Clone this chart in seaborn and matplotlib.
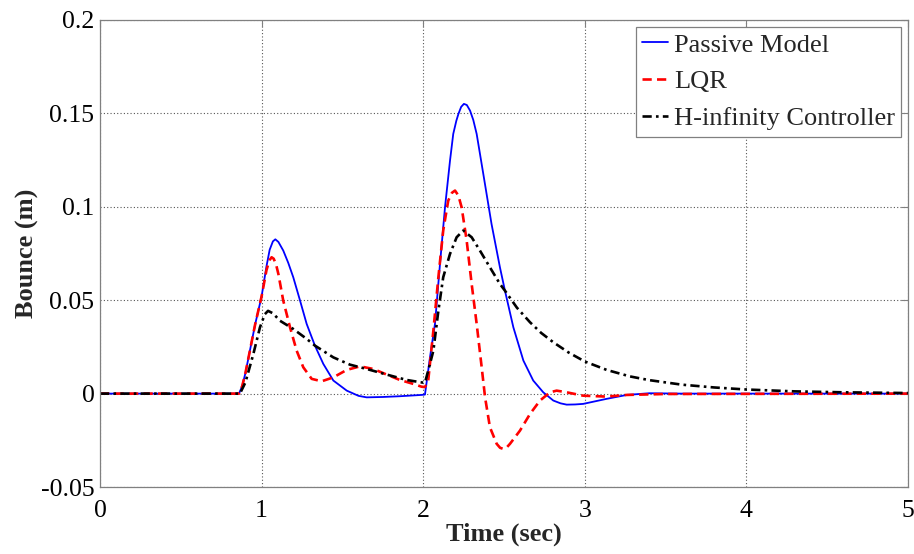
import pandas as pd
import matplotlib
matplotlib.use("Agg")
import matplotlib.pyplot as plt
import seaborn as sns

# Passive suspension response
t_passive = [0.0, 0.86, 0.88, 0.90, 0.93, 0.96, 1.0, 1.03, 1.05, 1.07, 1.085, 1.104,
             1.134, 1.165, 1.196, 1.238, 1.279, 1.33, 1.382, 1.444, 1.527, 1.60, 1.65,
             1.75, 1.856, 1.99, 2.011, 2.042, 2.073, 2.104, 2.135, 2.166, 2.186, 2.205, 2.218,
             2.235, 2.252, 2.27, 2.29, 2.31, 2.331, 2.372, 2.423, 2.475, 2.506, 2.558, 2.62,
             2.681, 2.743, 2.805, 2.85, 2.888, 2.94, 2.99, 3.135, 3.26, 3.4, 3.6, 5.0]
y_passive = [0.0, 0.0, 0.004, 0.011, 0.024, 0.037, 0.052, 0.068, 0.077, 0.0815, 0.0826, 0.0812,
             0.0766, 0.0700, 0.0623, 0.0498, 0.0373, 0.0257, 0.0159, 0.0070, 0.0016, -0.0012, -0.0020,
             -0.0018, -0.0014, -0.0007, -0.0005, 0.0194, 0.0373, 0.0694, 0.0997, 0.1247, 0.1390, 0.1460, 0.1497,
             0.1535, 0.1551, 0.1545, 0.1515, 0.1465, 0.1390, 0.1176, 0.0908, 0.0676, 0.0551, 0.0355, 0.0177,
             0.0070, 0.0007, -0.0037, -0.0052, -0.0059, -0.0058, -0.0055, -0.0028, -0.0007, 0.0002, 0.0, 0.0]

# LQR controller response
t_lqr = [0.0, 0.86, 0.88, 0.90, 0.93, 0.96, 1.0, 1.03, 1.048, 1.062, 1.075, 1.09, 1.104, 1.134,
         1.176, 1.217, 1.258, 1.31, 1.372, 1.444, 1.527, 1.609, 1.691, 1.774, 1.856, 1.939, 1.99,
         2.01, 2.03, 2.063, 2.094, 2.124, 2.155, 2.178, 2.197, 2.218, 2.238, 2.269, 2.30, 2.331,
         2.362, 2.383, 2.413, 2.455, 2.476, 2.496, 2.517, 2.537, 2.599, 2.661, 2.723, 2.785, 2.826,
         2.888, 2.99, 3.135, 3.26, 3.5, 5.0]
y_lqr = [0.0, 0.0, 0.004, 0.011, 0.024, 0.037, 0.052, 0.066, 0.0713, 0.0730, 0.0722, 0.0690, 0.0640,
         0.0498, 0.0355, 0.0230, 0.0141, 0.0079, 0.0066, 0.0087, 0.0127, 0.0146, 0.0132, 0.0102, 0.0073,
         0.0052, 0.0037, 0.0035, 0.0060, 0.0337, 0.0623, 0.0873, 0.1033, 0.1075, 0.1087, 0.1060, 0.0997,
         0.0820, 0.0587, 0.0373, 0.0141, -0.0020, -0.0180, -0.0269, -0.0290, -0.0296, -0.0288, -0.0269,
         -0.0198, -0.0109, -0.0037, 0.0007, 0.0016, 0.0007, -0.0011, -0.0016, -0.0007, -0.0002, 0.0]

# H-infinity controller response
t_hinf = [0.0, 0.866, 0.90, 0.949, 0.99, 1.02, 1.04, 1.07, 1.114, 1.196, 1.279, 1.33, 1.444,
          1.547, 1.65, 1.774, 1.898, 1.99, 2.011, 2.042, 2.063, 2.094, 2.124, 2.166, 2.207,
          2.248, 2.30, 2.351, 2.413, 2.475, 2.506, 2.58, 2.661, 2.73, 2.805, 2.90, 3.0, 3.135,
          3.28, 3.4, 3.6, 3.8, 4.0, 4.3, 4.6, 5.0]
y_hinf = [0.0, 0.0, 0.006, 0.0212, 0.0355, 0.0425, 0.0443, 0.0430, 0.0390, 0.0346, 0.0293, 0.0257, 0.0194,
          0.0155, 0.0132, 0.0102, 0.0073, 0.0060, 0.0058, 0.0159, 0.0230, 0.0444, 0.0623, 0.0748, 0.0837,
          0.0873, 0.0837, 0.0766, 0.0676, 0.0587, 0.0551, 0.0460, 0.0382, 0.0325, 0.0275, 0.0220, 0.0172, 0.0127,
          0.0092, 0.0072, 0.0048, 0.0033, 0.0022, 0.0012, 0.0007, 0.0003]

x_ticks = [0, 1, 2, 3, 4, 5]
y_ticks = [-0.05, 0, 0.05, 0.1, 0.15, 0.2]

sns.set_style("whitegrid")
plt.rcParams['font.family'] = ['Liberation Serif', 'DejaVu Serif']
plt.rcParams['axes.unicode_minus'] = False

fig = plt.figure(figsize=(9.14, 5.54), dpi=100)
ax = fig.add_axes([0.1094, 0.1209, 0.884, 0.843])

sns.lineplot(x=t_passive, y=y_passive, ax=ax, color='#0000ff', linewidth=1.3,
             label='Passive Model', sort=False)
sns.lineplot(x=t_lqr, y=y_lqr, ax=ax, color='#ff0000', linewidth=1.9,
             label='LQR', sort=False)
ax.lines[-1].set_dashes((3.5, 2))
sns.lineplot(x=t_hinf, y=y_hinf, ax=ax, color='black', linewidth=1.9,
             label='H-infinity Controller', sort=False)
ax.lines[-1].set_dashes((3.5, 1.6, 1, 1.6))

ax.set_xlim(0, 5)
ax.set_ylim(-0.05, 0.2)
ax.set_xticks(x_ticks)
ax.set_yticks(y_ticks)
ax.set_xticklabels([f'{v:g}' for v in x_ticks])
ax.set_yticklabels([f'{v:g}' for v in y_ticks])

# matlab-like look: dotted grid, gray box, inward ticks
ax.grid(True, linestyle=(0, (1, 2)), color='#555555', linewidth=0.8)
for s in ax.spines.values():
    s.set_color('#808080')
    s.set_linewidth(0.9)
ax.tick_params(axis='both', direction='in', length=5, color='#808080',
               labelsize=18.5, labelcolor='black', top=True, right=True)
ax.tick_params(axis='x', pad=9)
ax.tick_params(axis='y', pad=4)

ax.set_xlabel('Time (sec)', fontsize=19, fontweight='bold', labelpad=1)
ax.set_ylabel('Bounce (m)', fontsize=19, fontweight='bold', labelpad=1)

leg = ax.legend(loc='upper right', fontsize=19, handlelength=1.0, handletextpad=0.2,
                labelspacing=0.5, borderpad=0.25, borderaxespad=0.25,
                fancybox=False, framealpha=1, edgecolor='#808080')
leg.get_frame().set_linewidth(0.9)

plt.savefig('out.png', dpi=100)
